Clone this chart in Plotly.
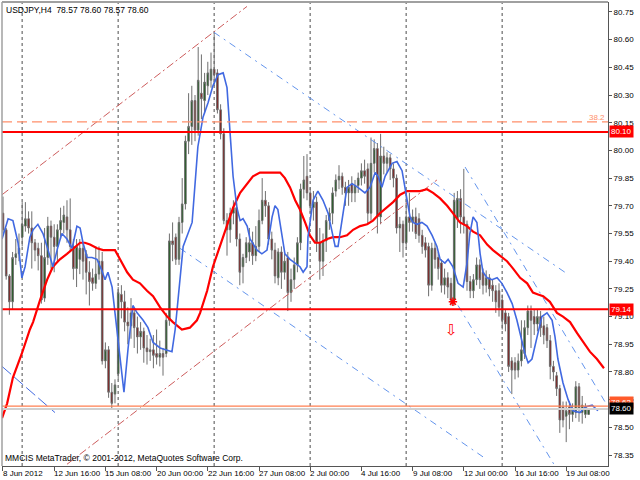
import plotly.graph_objects as go

# ---------------- data ----------------
opens = [79.66,79.57,79.32,79.18,79.42,79.44,79.53,79.59,79.63,79.58,79.50,79.47,79.43,79.20,79.42,79.59,79.53,79.48,79.57,79.61,
         79.64,79.57,79.48,79.36,79.41,79.47,79.44,79.34,79.31,79.28,79.33,79.40,78.86,78.92,78.69,78.68,78.79,79.22,79.18,79.07,
         79.05,79.12,79.04,78.99,79.02,78.93,78.91,78.92,78.90,78.88,78.90,78.90,79.08,79.51,79.53,79.41,79.61,79.71,80.05,80.13,
         80.27,80.11,80.31,80.27,80.35,80.38,80.44,80.42,80.22,80.09,79.62,79.57,79.66,79.69,79.52,79.37,79.42,79.45,79.50,79.43,
         79.48,79.62,79.73,79.70,79.52,79.46,79.31,79.45,79.34,79.42,79.23,79.30,79.38,79.50,79.79,79.86,79.77,79.69,79.72,79.50,
         79.40,79.51,79.62,79.66,79.78,79.84,79.86,79.80,79.77,79.82,79.77,79.81,79.85,79.89,79.90,79.66,79.93,80.01,79.64,79.97,
         79.93,79.96,79.90,79.85,79.58,79.60,79.50,79.64,79.61,79.64,79.63,79.54,79.50,79.48,79.27,79.47,79.42,79.39,79.27,79.31,
         79.28,79.19,79.63,79.74,79.64,79.60,79.29,79.24,79.30,79.38,79.34,79.27,79.31,79.27,79.24,79.24,79.19,79.12,79.10,78.86,
         78.85,78.81,78.86,78.90,79.04,79.13,79.10,79.06,79.10,79.05,79.04,78.97,78.83,78.78,78.71,78.61,78.56,78.61,78.57,78.58,
         78.72,78.58,78.57,78.57]
highs = [79.75,79.58,79.33,79.45,79.52,79.55,79.72,79.72,79.67,79.67,79.52,79.50,79.50,79.58,79.64,79.62,79.60,79.60,79.69,79.70,
         79.73,79.74,79.52,79.52,79.52,79.50,79.46,79.40,79.36,79.48,79.48,79.45,78.96,78.94,78.74,78.76,79.26,79.27,79.24,79.15,
         79.20,79.14,79.10,79.07,79.04,79.00,78.98,79.00,79.03,78.97,78.93,79.12,79.55,79.61,79.55,79.64,79.85,80.08,80.31,80.35,
         80.30,80.56,80.52,80.42,80.48,80.53,80.63,80.44,80.25,80.12,79.66,79.69,79.73,79.74,79.55,79.44,79.53,79.58,79.56,79.59,
         79.68,79.85,79.78,79.72,79.56,79.50,79.47,79.48,79.44,79.45,79.36,79.42,79.53,79.82,79.97,79.98,79.80,79.78,79.75,79.58,
         79.55,79.65,79.69,79.80,79.87,79.92,79.88,79.83,79.84,79.86,79.84,79.88,79.93,79.95,79.93,80.07,80.06,80.04,80.09,80.02,
         79.99,79.98,79.93,79.87,79.64,79.62,79.77,79.77,79.68,79.69,79.66,79.57,79.53,79.50,79.50,79.50,79.45,79.41,79.36,79.34,
         79.31,79.77,79.78,79.79,79.90,79.62,79.32,79.33,79.42,79.41,79.36,79.35,79.33,79.30,79.27,79.28,79.22,79.14,79.12,78.88,
         78.88,78.90,79.08,79.08,79.16,79.16,79.14,79.14,79.13,79.10,79.06,79.00,78.86,78.80,78.73,78.64,78.64,78.64,78.63,78.75,
         78.74,78.67,78.63,78.60]
lows = [79.55,79.30,79.11,79.14,79.38,79.40,79.48,79.56,79.55,79.36,79.40,79.35,79.17,79.18,79.38,79.36,79.34,79.40,79.52,79.55,
        79.50,79.45,79.30,79.26,79.33,79.30,79.22,79.16,79.24,79.25,79.30,78.84,78.82,78.66,78.60,78.63,78.76,79.09,79.02,78.95,
        78.98,78.93,78.90,78.92,78.85,78.84,78.86,78.82,78.84,78.83,78.78,78.88,79.05,79.40,79.38,79.38,79.55,79.68,79.98,80.03,
        80.05,80.08,80.17,80.20,80.30,80.34,80.35,80.20,80.06,79.60,79.43,79.50,79.60,79.48,79.27,79.28,79.39,79.40,79.38,79.40,
        79.45,79.60,79.64,79.49,79.41,79.28,79.27,79.25,79.30,79.13,79.18,79.25,79.34,79.46,79.74,79.73,79.66,79.62,79.45,79.30,
        79.32,79.45,79.57,79.60,79.75,79.79,79.76,79.70,79.70,79.72,79.72,79.77,79.81,79.82,79.60,79.62,79.88,79.55,79.60,79.87,
        79.88,79.84,79.80,79.55,79.45,79.42,79.47,79.56,79.56,79.52,79.50,79.44,79.42,79.21,79.24,79.36,79.30,79.23,79.22,79.20,
        79.16,79.16,79.58,79.55,79.55,79.24,79.20,79.20,79.27,79.25,79.22,79.23,79.21,79.18,79.12,79.10,79.03,79.02,78.80,78.68,
        78.76,78.77,78.83,78.87,79.00,78.93,79.00,79.02,78.99,78.95,78.93,78.76,78.75,78.67,78.47,78.50,78.42,78.49,78.53,78.55,
        78.53,78.52,78.55,78.57]
closes = [79.57,79.32,79.18,79.42,79.44,79.47,79.60,79.63,79.58,79.50,79.46,79.43,79.19,79.42,79.59,79.53,79.48,79.57,79.62,79.65,
          79.57,79.48,79.36,79.48,79.47,79.40,79.34,79.29,79.28,79.33,79.40,78.86,78.92,78.69,78.63,78.73,79.23,79.18,79.07,79.05,
          79.12,79.04,78.99,79.02,78.93,78.91,78.92,78.89,78.88,78.90,78.88,79.08,79.51,79.49,79.41,79.61,79.71,80.05,80.13,80.27,
          80.11,80.38,80.28,80.37,80.42,80.44,80.41,80.22,80.09,79.62,79.57,79.66,79.69,79.52,79.34,79.42,79.50,79.50,79.43,79.48,
          79.62,79.73,79.70,79.52,79.46,79.32,79.45,79.34,79.40,79.23,79.30,79.38,79.50,79.79,79.84,79.77,79.70,79.72,79.50,79.40,
          79.51,79.62,79.66,79.77,79.84,79.86,79.80,79.77,79.80,79.77,79.81,79.85,79.89,79.86,79.66,79.93,80.01,79.64,79.97,79.93,
          79.96,79.90,79.85,79.58,79.60,79.50,79.64,79.61,79.64,79.55,79.54,79.48,79.46,79.27,79.47,79.41,79.36,79.27,79.31,79.26,
          79.19,79.73,79.74,79.64,79.60,79.29,79.24,79.30,79.38,79.30,79.27,79.31,79.25,79.24,79.18,79.15,79.08,79.06,78.83,78.81,
          78.81,78.86,78.92,79.04,79.13,79.08,79.06,79.10,79.04,79.00,78.97,78.83,78.80,78.71,78.54,78.54,78.59,78.57,78.60,78.72,
          78.60,78.62,78.61,78.60]
bar_index = list(range(len(closes)))

# time-axis labels (bar index -> label)
label_index = [0, 16, 32, 48, 64, 80, 96, 112, 128, 144, 160, 176]
label_text = ["8 Jun 2012", "12 Jun 16:00", "15 Jun 08:00", "20 Jun 00:00", "22 Jun 16:00", "27 Jun 08:00",
              "2 Jul 00:00", "4 Jul 16:00", "9 Jul 08:00", "12 Jul 00:00", "16 Jul 16:00", "19 Jul 08:00"]
week_separators = [6, 36, 66, 96, 126, 156]

price_ticks = [80.75, 80.60, 80.45, 80.30, 80.15, 80.00, 79.85, 79.70, 79.55, 79.40, 79.25, 79.10,
               78.95, 78.80, 78.65, 78.50, 78.35]

# moving averages (bar index, price)
blue_ma_x = [-0.3,1.6,3.1,4.7,5.9,6.9,8.4,9.4,10.9,12.5,14.1,15.6,17.2,18.4,20.0,21.6,23.1,24.1,25.0,26.3,27.8,29.4,30.9,31.9,
             32.8,34.1,35.0,36.6,37.8,39.1,40.6,41.9,43.8,45.3,46.9,49.1,52.8,53.8,54.7,56.3,59.1,60.0,60.9,62.5,64.1,65.6,67.2,
             68.8,70.0,70.9,71.9,73.1,74.1,75.0,76.3,77.2,79.4,80.9,82.5,84.1,85.0,85.9,87.2,88.1,89.7,91.3,92.8,93.8,95.0,95.3,
             96.9,98.4,100.0,101.6,102.8,103.8,104.7,105.9,107.5,109.1,110.9,113.1,114.7,116.3,117.2,118.4,119.4,121.6,123.1,
             124.7,125.6,126.6,127.2,128.1,129.4,130.9,132.5,134.1,135.6,136.6,138.1,139.1,140.6,142.2,143.8,145.0,145.9,146.9,
             148.1,149.1,150.0,151.3,152.8,154.4,155.9,157.5,159.1,160.6,162.2,163.1,164.1,165.3,166.9,168.4,170.0,171.6,172.5,
             173.4,175.0,176.6,178.1,180.3,181.9,184.1,185.9]
blue_ma_y = [79.52,79.63,79.62,79.50,79.31,79.37,79.53,79.57,79.60,79.55,79.46,79.37,79.48,79.55,79.52,79.47,79.59,79.58,79.50,
             79.42,79.42,79.41,79.35,79.30,79.34,79.26,79.12,78.87,78.69,78.93,79.16,79.12,79.08,79.04,78.96,78.93,78.91,79.03,
             79.19,79.48,79.61,79.80,80.02,80.18,80.26,80.35,80.41,80.42,80.34,80.11,79.86,79.69,79.62,79.63,79.59,79.52,79.46,
             79.44,79.46,79.64,79.70,79.68,79.55,79.44,79.41,79.39,79.37,79.34,79.37,79.53,79.73,79.78,79.73,79.66,79.55,79.48,
             79.48,79.61,79.80,79.82,79.80,79.77,79.80,79.88,79.86,79.80,79.86,79.93,79.94,79.89,79.80,79.69,79.64,79.61,79.60,
             79.61,79.59,79.54,79.48,79.41,79.39,79.41,79.37,79.28,79.26,79.39,79.55,79.64,79.61,79.44,79.34,79.31,79.30,79.31,
             79.28,79.23,79.17,79.08,78.97,78.90,78.85,78.87,78.99,79.10,79.12,79.08,78.99,78.87,78.74,78.65,78.59,78.58,78.61,
             78.62,78.59]
red_ma_x = [-0.3,1.3,3.1,5.9,8.4,9.4,11.6,13.8,15.6,17.8,20.0,21.9,24.1,25.6,27.2,29.4,31.3,35.0,36.6,38.8,40.6,42.8,45.0,46.9,
            49.1,51.3,53.1,55.9,58.4,60.6,61.6,63.8,65.6,67.8,70.0,71.9,74.1,76.3,78.1,80.3,82.5,84.4,86.6,88.1,89.7,91.3,92.8,
            94.4,95.9,97.5,99.1,101.3,103.1,105.3,107.5,109.4,111.6,113.8,115.6,117.8,120.0,121.9,124.1,126.3,128.1,130.3,132.5,
            134.4,136.6,138.8,140.6,142.8,145.0,146.9,149.1,151.3,153.1,155.3,157.5,159.4,161.6,163.8,165.6,167.2,168.8,170.9,
            173.1,175.0,177.2,179.4,181.3,183.4,185.6,187.8]
red_ma_y = [78.55,78.63,78.77,78.90,79.03,79.07,79.19,79.30,79.37,79.41,79.44,79.47,79.50,79.50,79.49,79.47,79.46,79.46,79.41,
            79.34,79.30,79.28,79.24,79.21,79.15,79.10,79.07,79.03,79.04,79.08,79.12,79.24,79.37,79.48,79.59,79.69,79.77,79.82,
            79.86,79.88,79.88,79.88,79.88,79.85,79.80,79.73,79.68,79.61,79.54,79.50,79.50,79.52,79.53,79.53,79.54,79.57,79.59,
            79.60,79.62,79.66,79.69,79.72,79.76,79.78,79.78,79.78,79.79,79.77,79.74,79.70,79.66,79.61,79.59,79.56,79.54,79.49,
            79.46,79.43,79.40,79.36,79.31,79.28,79.23,79.22,79.21,79.18,79.12,79.10,79.07,79.01,78.96,78.91,78.87,78.82]

# trend lines (bar index, price)
red_chan_up_x, red_chan_up_y = [-0.3, 76.25], [79.76, 80.78]
red_chan_lo_x, red_chan_lo_y = [20.0, 135.6], [78.30, 79.84]
blue_chan_up_x, blue_chan_up_y = [65.9, 175.6], [80.64, 79.34]
blue_chan_lo_x, blue_chan_lo_y = [55.3, 150.0], [79.47, 78.34]
blue_left_x, blue_left_y = [-0.3, 16.25], [78.83, 78.58]
blue_fan_a_x, blue_fan_a_y = [144.4, 188.75], [79.91, 78.62]
blue_fan_b_x, blue_fan_b_y = [142.2, 172.5], [79.16, 78.29]

# horizontal levels
resistance = 80.10
support = 79.14
fibo_382 = 80.155
orange_level = 78.615
bid_price = 78.60

# markers
sell_mark_x, sell_mark_y = 140.6, 79.18
arrow_x, arrow_y = 140.3, 79.03

FONT = "Liberation Sans"

fig = go.Figure()

fig.add_trace(go.Candlestick(
    x=bar_index, open=opens, high=highs, low=lows, close=closes,
    increasing=dict(line=dict(color="#6e6e6e", width=1), fillcolor="#0b560b"),
    decreasing=dict(line=dict(color="#6e6e6e", width=1), fillcolor="#870808"),
    whiskerwidth=0, showlegend=False, hoverinfo="skip"))

def tline(xs, ys, color, dash, width=1):
    fig.add_trace(go.Scatter(x=xs, y=ys, mode="lines", showlegend=False, hoverinfo="skip",
                             line=dict(color=color, width=width, dash=dash)))

tline(red_chan_up_x, red_chan_up_y, "#cd5c5c", "8px,3px,2px,3px")
tline(red_chan_lo_x, red_chan_lo_y, "#cd5c5c", "8px,3px,2px,3px")
tline(blue_chan_up_x, blue_chan_up_y, "#6495ed", "7px,5px,2px,5px")
tline(blue_chan_lo_x, blue_chan_lo_y, "#6495ed", "7px,5px,2px,5px")
tline(blue_fan_a_x, blue_fan_a_y, "#6495ed", "7px,5px,2px,5px")
tline(blue_fan_b_x, blue_fan_b_y, "#6495ed", "7px,5px,2px,5px")
tline(blue_left_x, blue_left_y, "#4169e1", "12px,4px")

fig.add_trace(go.Scatter(x=red_ma_x, y=red_ma_y, mode="lines", showlegend=False, hoverinfo="skip",
                         line=dict(color="#ff0000", width=2.2)))
fig.add_trace(go.Scatter(x=blue_ma_x, y=blue_ma_y, mode="lines", showlegend=False, hoverinfo="skip",
                         line=dict(color="#4169e1", width=1.6)))

fig.add_trace(go.Scatter(x=[sell_mark_x], y=[sell_mark_y], mode="markers", showlegend=False, hoverinfo="skip",
                         marker=dict(symbol="asterisk-open", size=7, color="#ff0000",
                                     line=dict(color="#ff0000", width=1.5))))

shapes = []
for s in week_separators:
    shapes.append(dict(type="line", xref="x", yref="paper", x0=s, x1=s, y0=0, y1=1, layer="below",
                       line=dict(color="#888888", width=1.5, dash="dot")))
shapes += [
    dict(type="line", xref="paper", yref="y", x0=0, x1=1, y0=fibo_382, y1=fibo_382,
         line=dict(color="#ff8f6b", width=1.3, dash="10px,5px")),
    dict(type="line", xref="paper", yref="y", x0=0, x1=1, y0=resistance, y1=resistance,
         line=dict(color="#ff0000", width=2)),
    dict(type="line", xref="paper", yref="y", x0=0, x1=1, y0=support, y1=support,
         line=dict(color="#ff0000", width=2)),
    dict(type="line", xref="paper", yref="y", x0=0, x1=1, y0=bid_price, y1=bid_price,
         line=dict(color="#d0d0d0", width=2)),
    dict(type="line", xref="paper", yref="y", x0=0, x1=1, y0=orange_level, y1=orange_level,
         line=dict(color="#ff7f50", width=1.3)),
    dict(type="line", xref="paper", yref="paper", x0=0, x1=1, y0=1, y1=1,
         line=dict(color="#a0a0a0", width=2)),
    dict(type="line", xref="paper", yref="paper", x0=0, x1=0, y0=0, y1=1,
         line=dict(color="#a0a0a0", width=1.5)),
]

ann = []
for i, t in zip(label_index, label_text):
    ann.append(dict(x=i, y=0, xref="x", yref="paper", text=t, showarrow=False, xanchor="left", yanchor="top",
                    xshift=-2, yshift=-1, font=dict(family=FONT, size=8, color="#000000")))
ann += [
    dict(x=0, y=1, xref="paper", yref="paper", xanchor="left", yanchor="top", xshift=2, yshift=-1, showarrow=False,
         text="USDJPY,H4\u00a0\u00a078.57 78.60 78.57 78.60", font=dict(family=FONT, size=8.5, color="#000000")),
    dict(x=0, y=0, xref="paper", yref="paper", xanchor="left", yanchor="bottom", xshift=1, yshift=1, showarrow=False,
         text="MMCIS MetaTrader, \u00a9 2001-2012, MetaQuotes Software Corp.",
         font=dict(family=FONT, size=8.5, color="#000000")),
    dict(x=1, y=fibo_382, xref="paper", yref="y", xanchor="right", yanchor="bottom", xshift=-1, yshift=-2,
         showarrow=False, text="38.2", font=dict(family=FONT, size=8, color="#ff8f6b")),
    dict(x=arrow_x, y=arrow_y, xref="x", yref="y", showarrow=False, text="\u21e9",
         font=dict(family="DejaVu Sans", size=15, color="#ff0000")),
    dict(x=1, y=resistance, xref="paper", yref="y", xanchor="left", yanchor="middle", xshift=1, showarrow=False,
         text="80.10", bgcolor="#ff0000", borderpad=1, font=dict(family=FONT, size=8, color="#ffffff")),
    dict(x=1, y=support, xref="paper", yref="y", xanchor="left", yanchor="middle", xshift=1, showarrow=False,
         text="79.14", bgcolor="#ff0000", borderpad=1, font=dict(family=FONT, size=8, color="#ffffff")),
    dict(x=1, y=orange_level, xref="paper", yref="y", xanchor="left", yanchor="middle", xshift=1, yshift=4,
         showarrow=False, text="78.62", bgcolor="#ff5a2a", borderpad=1, font=dict(family=FONT, size=8, color="#ffffff")),
    dict(x=1, y=bid_price, xref="paper", yref="y", xanchor="left", yanchor="middle", xshift=1, showarrow=False,
         text="78.60", bgcolor="#000000", borderpad=1, font=dict(family=FONT, size=8, color="#ffffff")),
]

fig.update_layout(
    width=640, height=480,
    margin=dict(l=2, r=32, t=2, b=14),
    paper_bgcolor="#ffffff", plot_bgcolor="#ffffff",
    showlegend=False, shapes=shapes, annotations=ann,
    xaxis=dict(range=[-0.31, 189.06], showgrid=False, zeroline=False, rangeslider=dict(visible=False),
               tickvals=label_index, ticks="outside", ticklen=4, tickcolor="#555555", showticklabels=False,
               showline=True, linecolor="#555555", linewidth=1, fixedrange=True),
    yaxis=dict(range=[78.2906, 80.804], side="right", showgrid=False, zeroline=False,
               tickvals=price_ticks, ticktext=[f"{v:.2f}" for v in price_ticks],
               ticks="outside", ticklen=3, tickcolor="#555555",
               tickfont=dict(family=FONT, size=8, color="#000000"),
               showline=True, linecolor="#555555", linewidth=1, fixedrange=True),
)

fig.write_html("out.html", config={"displayModeBar": False},
               post_script="document.body.style.margin='0px';document.body.style.overflow='hidden';")
